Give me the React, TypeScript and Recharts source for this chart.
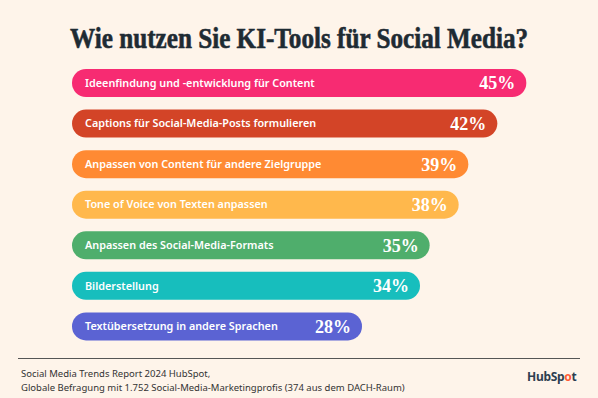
import React, { useLayoutEffect, useRef, useState } from 'react';
import { BarChart, Bar, XAxis, YAxis } from 'recharts';

const title = 'Wie nutzen Sie KI-Tools für Social Media?';
const categories = [
  'Ideenfindung und -entwicklung für Content',
  'Captions für Social-Media-Posts formulieren',
  'Anpassen von Content für andere Zielgruppe',
  'Tone of Voice von Texten anpassen',
  'Anpassen des Social-Media-Formats',
  'Bilderstellung',
  'Textübersetzung in andere Sprachen',
];
const shares = [45, 42, 39, 38, 35, 34, 28];
const barColors = ['#F72B72', '#D34427', '#FF8A33', '#FFB84C', '#4FAE6C', '#17BEBD', '#5B63D3'];

const data = categories.map((name, i) => ({ name, value: shares[i], color: barColors[i] }));

const BG = '#FEF4EA';
const TITLE_WIDTH = 458;

// pill bar that runs from the left edge of the plot to the value
const PillBar = (props: any) => {
  const { x, y, width, height, payload, background } = props;
  const left = background ? background.x : x;
  const right = x + width;
  const w = right - left;
  const cy = y + height / 2;
  return (
    <g>
      <rect x={left} y={y} width={w} height={height} rx={height / 2} ry={height / 2} fill={payload.color} />
      <text
        x={left + 13}
        y={cy}
        dy="0.35em"
        fill="#fff"
        fontFamily="'Noto Sans', sans-serif"
        fontWeight={600}
        fontSize={10.8}
      >
        {payload.name}
      </text>
      <text
        x={right - 11}
        y={cy}
        dy="0.36em"
        textAnchor="end"
        fill="#fff"
        fontFamily="'Liberation Serif', serif"
        fontWeight={700}
        fontSize={18}
      >
        {payload.value}%
      </text>
    </g>
  );
};

export default function App() {
  const titleRef = useRef<HTMLSpanElement>(null);
  const [sx, setSx] = useState(0.82);

  useLayoutEffect(() => {
    if (titleRef.current) {
      const w = titleRef.current.offsetWidth;
      if (w > 0) setSx(TITLE_WIDTH / w);
    }
  }, []);

  return (
    <div style={{ position: 'absolute', left: 0, top: 0, width: 598, height: 398, background: BG, overflow: 'hidden' }}>
      <div style={{ position: 'absolute', left: 0, top: 20, width: 598, textAlign: 'center' }}>
        <span
          ref={titleRef}
          style={{
            display: 'inline-block',
            whiteSpace: 'nowrap',
            fontFamily: "'Liberation Serif', serif",
            fontWeight: 700,
            fontSize: 30,
            lineHeight: '36px',
            color: '#1E2B33',
            WebkitTextStroke: '0.6px #1E2B33',
            transform: `scaleX(${sx})`,
            transformOrigin: 'center',
          }}
        >
          {title}
        </span>
      </div>

      <div style={{ position: 'absolute', left: 0, top: 0 }}>
        <BarChart
          width={598}
          height={398}
          data={data}
          layout="vertical"
          margin={{ top: 63, right: 62, bottom: 51, left: 72 }}
          barCategoryGap={0}
        >
          <XAxis type="number" domain={[-2, 46]} allowDataOverflow hide />
          <YAxis type="category" dataKey="name" width={0} hide />
          <Bar dataKey="value" barSize={28} shape={<PillBar />} isAnimationActive={false} />
        </BarChart>
      </div>

      <div style={{ position: 'absolute', left: 18, top: 358, width: 562, height: 1, background: '#555' }} />
      <div
        style={{
          position: 'absolute',
          left: 21,
          top: 367,
          fontFamily: "'Noto Sans', sans-serif",
          fontSize: 9.5,
          lineHeight: '13.5px',
          color: '#333',
        }}
      >
        Social Media Trends Report 2024 HubSpot,
        <br />
        Globale Befragung mit 1.752 Social-Media-Marketingprofis (374 aus dem DACH-Raum)
      </div>
      <div
        style={{
          position: 'absolute',
          left: 527,
          top: 369,
          fontFamily: "'Noto Sans', sans-serif",
          fontWeight: 700,
          fontSize: 12,
          lineHeight: '16px',
          color: '#2D3E50',
          letterSpacing: -0.3,
        }}
      >
        HubSp<span style={{ color: '#FF5C35' }}>o</span>t
      </div>
    </div>
  );
}
